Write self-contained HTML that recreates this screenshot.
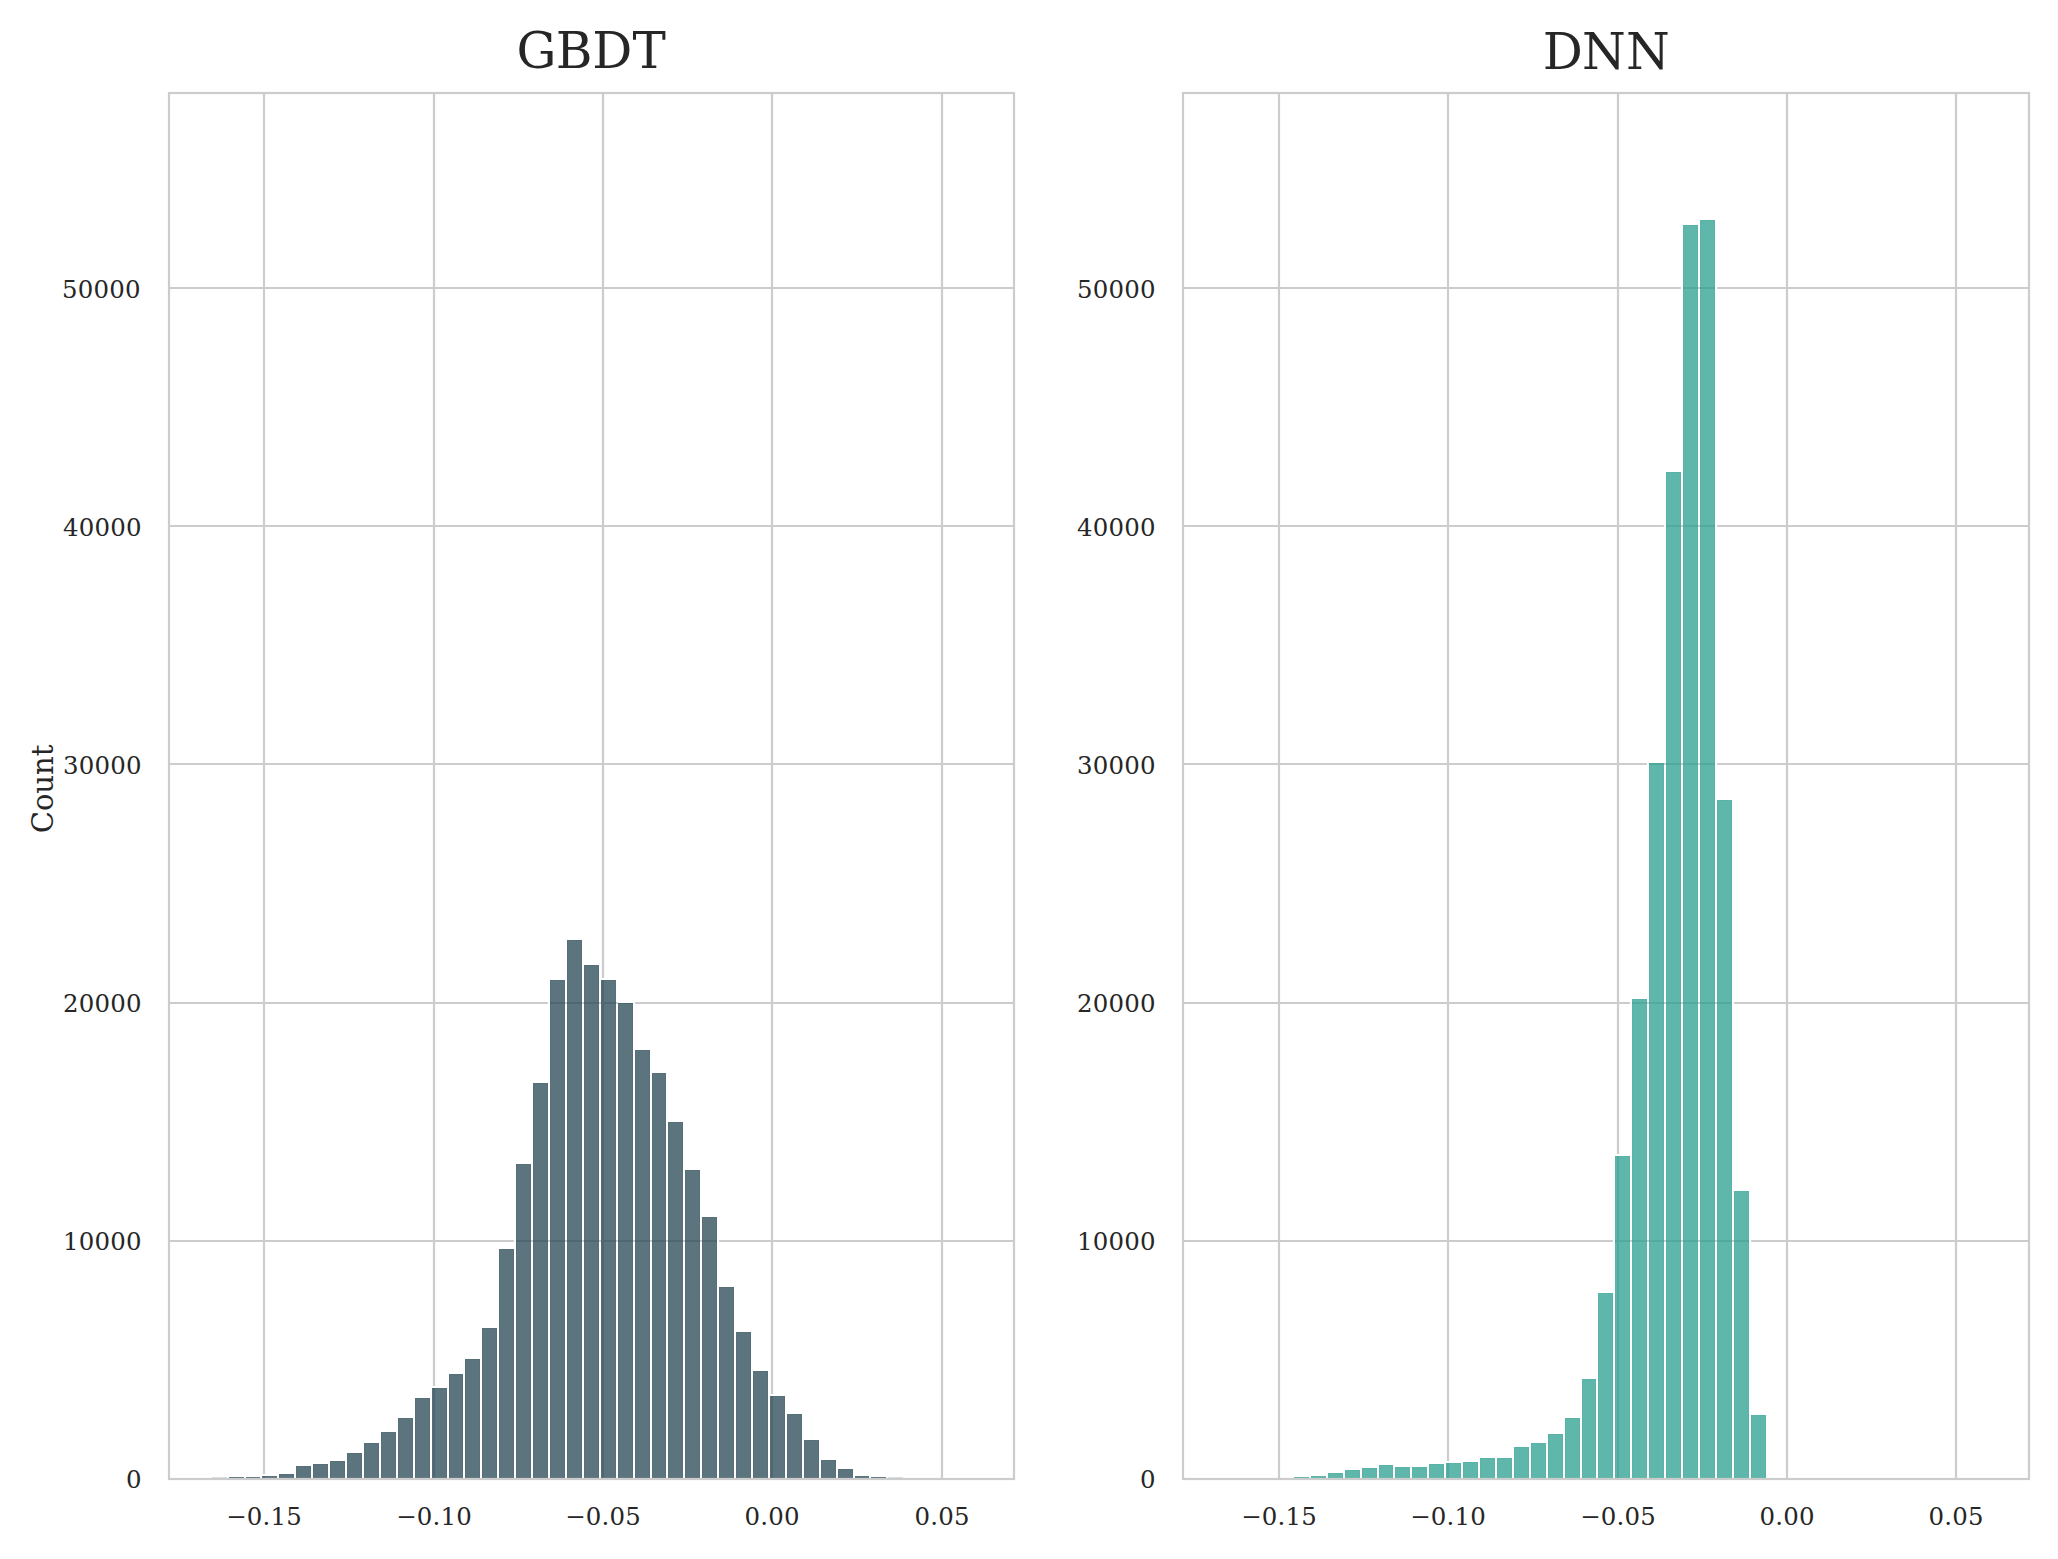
<!DOCTYPE html>
<html lang="en">
<head>
<meta charset="utf-8">
<title>GBDT vs DNN histograms</title>
<style>
html,body{margin:0;padding:0;background:#fff;}
body{width:2058px;height:1559px;overflow:hidden;}
svg{display:block;}
text{font-family:"DejaVu Serif", "Liberation Serif", serif;fill:#262626;}
.tk{font-size:24.44px;letter-spacing:0.2px;}
.ti{font-size:50px;}
.lb{font-size:29.17px;letter-spacing:-0.15px;}
.g{stroke:#cccccc;stroke-width:2.2;fill:none;}
</style>
</head>
<body>
<svg width="2058" height="1559" viewBox="0 0 2058 1559">
<rect width="2058" height="1559" fill="#ffffff"/>
<defs>
<clipPath id="c0"><rect x="169" y="93" width="845" height="1386"/></clipPath>
<clipPath id="c1"><rect x="1183" y="93" width="846" height="1386"/></clipPath>
</defs>
<g>
<line class="g" x1="264" y1="93" x2="264" y2="1479"/>
<line class="g" x1="434" y1="93" x2="434" y2="1479"/>
<line class="g" x1="603" y1="93" x2="603" y2="1479"/>
<line class="g" x1="772" y1="93" x2="772" y2="1479"/>
<line class="g" x1="942" y1="93" x2="942" y2="1479"/>
<line class="g" x1="169" y1="1241" x2="1014" y2="1241"/>
<line class="g" x1="169" y1="1003" x2="1014" y2="1003"/>
<line class="g" x1="169" y1="764" x2="1014" y2="764"/>
<line class="g" x1="169" y1="526" x2="1014" y2="526"/>
<line class="g" x1="169" y1="288" x2="1014" y2="288"/>
<g clip-path="url(#c0)">
<path fill="#ffffff" fill-rule="evenodd" d="M209.9 1474.9H229.1V1479H209.9ZM212 1477V1479H227V1477ZM226.9 1474.9H246.1V1479H226.9ZM229 1477V1479H244V1477ZM243.9 1474.9H262.1V1479H243.9ZM246 1477V1479H260V1477ZM259.9 1473.9H279.1V1479H259.9ZM262 1476V1479H277V1476ZM276.9 1471.9H296.1V1479H276.9ZM279 1474V1479H294V1474ZM293.9 1463.9H313.1V1479H293.9ZM296 1466V1479H311V1466ZM310.9 1461.9H330.1V1479H310.9ZM313 1464V1479H328V1464ZM327.9 1458.9H347.1V1479H327.9ZM330 1461V1479H345V1461ZM344.9 1450.9H364.1V1479H344.9ZM347 1453V1479H362V1453ZM361.9 1440.9H381.1V1479H361.9ZM364 1443V1479H379V1443ZM378.9 1429.9H398.1V1479H378.9ZM381 1432V1479H396V1432ZM395.9 1415.9H415.1V1479H395.9ZM398 1418V1479H413V1418ZM412.9 1395.9H432.1V1479H412.9ZM415 1398V1479H430V1398ZM429.9 1385.9H449.1V1479H429.9ZM432 1388V1479H447V1388ZM446.9 1371.9H465.1V1479H446.9ZM449 1374V1479H463V1374ZM462.9 1356.9H482.1V1479H462.9ZM465 1359V1479H480V1359ZM479.9 1325.9H499.1V1479H479.9ZM482 1328V1479H497V1328ZM496.9 1246.9H516.1V1479H496.9ZM499 1249V1479H514V1249ZM513.9 1161.9H533.1V1479H513.9ZM516 1164V1479H531V1164ZM530.9 1080.9H550.1V1479H530.9ZM533 1083V1479H548V1083ZM547.9 977.9H567.1V1479H547.9ZM550 980V1479H565V980ZM564.9 937.9H584.1V1479H564.9ZM567 940V1479H582V940ZM581.9 962.9H601.1V1479H581.9ZM584 965V1479H599V965ZM598.9 977.9H618.1V1479H598.9ZM601 980V1479H616V980ZM615.9 1000.9H635.1V1479H615.9ZM618 1003V1479H633V1003ZM632.9 1047.9H652.1V1479H632.9ZM635 1050V1479H650V1050ZM649.9 1070.9H668.1V1479H649.9ZM652 1073V1479H666V1073ZM665.9 1119.9H685.1V1479H665.9ZM668 1122V1479H683V1122ZM682.9 1167.9H702.1V1479H682.9ZM685 1170V1479H700V1170ZM699.9 1214.9H719.1V1479H699.9ZM702 1217V1479H717V1217ZM716.9 1284.9H736.1V1479H716.9ZM719 1287V1479H734V1287ZM733.9 1329.9H753.1V1479H733.9ZM736 1332V1479H751V1332ZM750.9 1368.9H770.1V1479H750.9ZM753 1371V1479H768V1371ZM767.9 1393.9H787.1V1479H767.9ZM770 1396V1479H785V1396ZM784.9 1411.9H804.1V1479H784.9ZM787 1414V1479H802V1414ZM801.9 1437.9H821.1V1479H801.9ZM804 1440V1479H819V1440ZM818.9 1457.9H838.1V1479H818.9ZM821 1460V1479H836V1460ZM835.9 1466.9H855.1V1479H835.9ZM838 1469V1479H853V1469ZM852.9 1473.9H871.1V1479H852.9ZM855 1476V1479H869V1476ZM868.9 1474.9H888.1V1479H868.9ZM871 1477V1479H886V1477ZM885.9 1474.9H905.1V1479H885.9ZM888 1477V1479H903V1477Z"/>
<g fill="#264653" fill-opacity="0.75">
<rect x="212" y="1477" width="15" height="2" fill-opacity="0.17"/>
<rect x="229" y="1477" width="15" height="2"/>
<rect x="246" y="1477" width="14" height="2"/>
<rect x="262" y="1476" width="15" height="3"/>
<rect x="279" y="1474" width="15" height="5"/>
<rect x="296" y="1466" width="15" height="13"/>
<rect x="313" y="1464" width="15" height="15"/>
<rect x="330" y="1461" width="15" height="18"/>
<rect x="347" y="1453" width="15" height="26"/>
<rect x="364" y="1443" width="15" height="36"/>
<rect x="381" y="1432" width="15" height="47"/>
<rect x="398" y="1418" width="15" height="61"/>
<rect x="415" y="1398" width="15" height="81"/>
<rect x="432" y="1388" width="15" height="91"/>
<rect x="449" y="1374" width="14" height="105"/>
<rect x="465" y="1359" width="15" height="120"/>
<rect x="482" y="1328" width="15" height="151"/>
<rect x="499" y="1249" width="15" height="230"/>
<rect x="516" y="1164" width="15" height="315"/>
<rect x="533" y="1083" width="15" height="396"/>
<rect x="550" y="980" width="15" height="499"/>
<rect x="567" y="940" width="15" height="539"/>
<rect x="584" y="965" width="15" height="514"/>
<rect x="601" y="980" width="15" height="499"/>
<rect x="618" y="1003" width="15" height="476"/>
<rect x="635" y="1050" width="15" height="429"/>
<rect x="652" y="1073" width="14" height="406"/>
<rect x="668" y="1122" width="15" height="357"/>
<rect x="685" y="1170" width="15" height="309"/>
<rect x="702" y="1217" width="15" height="262"/>
<rect x="719" y="1287" width="15" height="192"/>
<rect x="736" y="1332" width="15" height="147"/>
<rect x="753" y="1371" width="15" height="108"/>
<rect x="770" y="1396" width="15" height="83"/>
<rect x="787" y="1414" width="15" height="65"/>
<rect x="804" y="1440" width="15" height="39"/>
<rect x="821" y="1460" width="15" height="19"/>
<rect x="838" y="1469" width="15" height="10"/>
<rect x="855" y="1476" width="14" height="3"/>
<rect x="871" y="1477" width="15" height="2"/>
<rect x="888" y="1477" width="15" height="2" fill-opacity="0.17"/>
</g>
<path fill="#264653" fill-opacity="0.10" fill-rule="evenodd" d="M279 1474H294V1479H279ZM280 1475V1479H293V1475ZM296 1466H311V1479H296ZM297 1467V1479H310V1467ZM313 1464H328V1479H313ZM314 1465V1479H327V1465ZM330 1461H345V1479H330ZM331 1462V1479H344V1462ZM347 1453H362V1479H347ZM348 1454V1479H361V1454ZM364 1443H379V1479H364ZM365 1444V1479H378V1444ZM381 1432H396V1479H381ZM382 1433V1479H395V1433ZM398 1418H413V1479H398ZM399 1419V1479H412V1419ZM415 1398H430V1479H415ZM416 1399V1479H429V1399ZM432 1388H447V1479H432ZM433 1389V1479H446V1389ZM449 1374H463V1479H449ZM450 1375V1479H462V1375ZM465 1359H480V1479H465ZM466 1360V1479H479V1360ZM482 1328H497V1479H482ZM483 1329V1479H496V1329ZM499 1249H514V1479H499ZM500 1250V1479H513V1250ZM516 1164H531V1479H516ZM517 1165V1479H530V1165ZM533 1083H548V1479H533ZM534 1084V1479H547V1084ZM550 980H565V1479H550ZM551 981V1479H564V981ZM567 940H582V1479H567ZM568 941V1479H581V941ZM584 965H599V1479H584ZM585 966V1479H598V966ZM601 980H616V1479H601ZM602 981V1479H615V981ZM618 1003H633V1479H618ZM619 1004V1479H632V1004ZM635 1050H650V1479H635ZM636 1051V1479H649V1051ZM652 1073H666V1479H652ZM653 1074V1479H665V1074ZM668 1122H683V1479H668ZM669 1123V1479H682V1123ZM685 1170H700V1479H685ZM686 1171V1479H699V1171ZM702 1217H717V1479H702ZM703 1218V1479H716V1218ZM719 1287H734V1479H719ZM720 1288V1479H733V1288ZM736 1332H751V1479H736ZM737 1333V1479H750V1333ZM753 1371H768V1479H753ZM754 1372V1479H767V1372ZM770 1396H785V1479H770ZM771 1397V1479H784V1397ZM787 1414H802V1479H787ZM788 1415V1479H801V1415ZM804 1440H819V1479H804ZM805 1441V1479H818V1441ZM821 1460H836V1479H821ZM822 1461V1479H835V1461ZM838 1469H853V1479H838ZM839 1470V1479H852V1470Z"/>
</g>
<rect class="g" x="169" y="93" width="845" height="1386"/>
<text class="tk" text-anchor="end" x="141.7" y="1488">0</text>
<text class="tk" text-anchor="end" x="141.7" y="1250">10000</text>
<text class="tk" text-anchor="end" x="141.7" y="1012">20000</text>
<text class="tk" text-anchor="end" x="141.7" y="774">30000</text>
<text class="tk" text-anchor="end" x="141.7" y="536">40000</text>
<text class="tk" text-anchor="end" x="140.7" y="298">50000</text>
<text class="tk" text-anchor="middle" x="264.1" y="1525">−0.15</text>
<text class="tk" text-anchor="middle" x="434.1" y="1525">−0.10</text>
<text class="tk" text-anchor="middle" x="603.1" y="1525">−0.05</text>
<text class="tk" text-anchor="middle" x="772.1" y="1525">0.00</text>
<text class="tk" text-anchor="middle" x="942.1" y="1525">0.05</text>
</g>
<g>
<line class="g" x1="1279" y1="93" x2="1279" y2="1479"/>
<line class="g" x1="1448" y1="93" x2="1448" y2="1479"/>
<line class="g" x1="1618" y1="93" x2="1618" y2="1479"/>
<line class="g" x1="1787" y1="93" x2="1787" y2="1479"/>
<line class="g" x1="1956" y1="93" x2="1956" y2="1479"/>
<line class="g" x1="1183" y1="1241" x2="2029" y2="1241"/>
<line class="g" x1="1183" y1="1003" x2="2029" y2="1003"/>
<line class="g" x1="1183" y1="764" x2="2029" y2="764"/>
<line class="g" x1="1183" y1="526" x2="2029" y2="526"/>
<line class="g" x1="1183" y1="288" x2="2029" y2="288"/>
<g clip-path="url(#c1)">
<path fill="#ffffff" fill-rule="evenodd" d="M1291.9 1474.9H1311.1V1479H1291.9ZM1294 1477V1479H1309V1477ZM1308.9 1473.9H1328.1V1479H1308.9ZM1311 1476V1479H1326V1476ZM1325.9 1470.9H1345.1V1479H1325.9ZM1328 1473V1479H1343V1473ZM1342.9 1467.9H1362.1V1479H1342.9ZM1345 1470V1479H1360V1470ZM1359.9 1465.9H1379.1V1479H1359.9ZM1362 1468V1479H1377V1468ZM1376.9 1462.9H1395.1V1479H1376.9ZM1379 1465V1479H1393V1465ZM1392.9 1464.9H1412.1V1479H1392.9ZM1395 1467V1479H1410V1467ZM1409.9 1464.9H1429.1V1479H1409.9ZM1412 1467V1479H1427V1467ZM1426.9 1461.9H1446.1V1479H1426.9ZM1429 1464V1479H1444V1464ZM1443.9 1460.9H1463.1V1479H1443.9ZM1446 1463V1479H1461V1463ZM1460.9 1459.9H1480.1V1479H1460.9ZM1463 1462V1479H1478V1462ZM1477.9 1455.9H1497.1V1479H1477.9ZM1480 1458V1479H1495V1458ZM1494.9 1455.9H1514.1V1479H1494.9ZM1497 1458V1479H1512V1458ZM1511.9 1444.9H1531.1V1479H1511.9ZM1514 1447V1479H1529V1447ZM1528.9 1440.9H1548.1V1479H1528.9ZM1531 1443V1479H1546V1443ZM1545.9 1431.9H1565.1V1479H1545.9ZM1548 1434V1479H1563V1434ZM1562.9 1415.9H1582.1V1479H1562.9ZM1565 1418V1479H1580V1418ZM1579.9 1376.9H1598.1V1479H1579.9ZM1582 1379V1479H1596V1379ZM1595.9 1290.9H1615.1V1479H1595.9ZM1598 1293V1479H1613V1293ZM1612.9 1153.9H1632.1V1479H1612.9ZM1615 1156V1479H1630V1156ZM1629.9 996.9H1649.1V1479H1629.9ZM1632 999V1479H1647V999ZM1646.9 760.9H1666.1V1479H1646.9ZM1649 763V1479H1664V763ZM1663.9 469.9H1683.1V1479H1663.9ZM1666 472V1479H1681V472ZM1680.9 222.9H1700.1V1479H1680.9ZM1683 225V1479H1698V225ZM1697.9 217.9H1717.1V1479H1697.9ZM1700 220V1479H1715V220ZM1714.9 797.9H1734.1V1479H1714.9ZM1717 800V1479H1732V800ZM1731.9 1188.9H1751.1V1479H1731.9ZM1734 1191V1479H1749V1191ZM1748.9 1412.9H1768.1V1479H1748.9ZM1751 1415V1479H1766V1415Z"/>
<g fill="#2a9d8f" fill-opacity="0.75">
<rect x="1294" y="1477" width="15" height="2"/>
<rect x="1311" y="1476" width="15" height="3"/>
<rect x="1328" y="1473" width="15" height="6"/>
<rect x="1345" y="1470" width="15" height="9"/>
<rect x="1362" y="1468" width="15" height="11"/>
<rect x="1379" y="1465" width="14" height="14"/>
<rect x="1395" y="1467" width="15" height="12"/>
<rect x="1412" y="1467" width="15" height="12"/>
<rect x="1429" y="1464" width="15" height="15"/>
<rect x="1446" y="1463" width="15" height="16"/>
<rect x="1463" y="1462" width="15" height="17"/>
<rect x="1480" y="1458" width="15" height="21"/>
<rect x="1497" y="1458" width="15" height="21"/>
<rect x="1514" y="1447" width="15" height="32"/>
<rect x="1531" y="1443" width="15" height="36"/>
<rect x="1548" y="1434" width="15" height="45"/>
<rect x="1565" y="1418" width="15" height="61"/>
<rect x="1582" y="1379" width="14" height="100"/>
<rect x="1598" y="1293" width="15" height="186"/>
<rect x="1615" y="1156" width="15" height="323"/>
<rect x="1632" y="999" width="15" height="480"/>
<rect x="1649" y="763" width="15" height="716"/>
<rect x="1666" y="472" width="15" height="1007"/>
<rect x="1683" y="225" width="15" height="1254"/>
<rect x="1700" y="220" width="15" height="1259"/>
<rect x="1717" y="800" width="15" height="679"/>
<rect x="1734" y="1191" width="15" height="288"/>
<rect x="1751" y="1415" width="15" height="64"/>
</g>
<path fill="#2a9d8f" fill-opacity="0.10" fill-rule="evenodd" d="M1328 1473H1343V1479H1328ZM1329 1474V1479H1342V1474ZM1345 1470H1360V1479H1345ZM1346 1471V1479H1359V1471ZM1362 1468H1377V1479H1362ZM1363 1469V1479H1376V1469ZM1379 1465H1393V1479H1379ZM1380 1466V1479H1392V1466ZM1395 1467H1410V1479H1395ZM1396 1468V1479H1409V1468ZM1412 1467H1427V1479H1412ZM1413 1468V1479H1426V1468ZM1429 1464H1444V1479H1429ZM1430 1465V1479H1443V1465ZM1446 1463H1461V1479H1446ZM1447 1464V1479H1460V1464ZM1463 1462H1478V1479H1463ZM1464 1463V1479H1477V1463ZM1480 1458H1495V1479H1480ZM1481 1459V1479H1494V1459ZM1497 1458H1512V1479H1497ZM1498 1459V1479H1511V1459ZM1514 1447H1529V1479H1514ZM1515 1448V1479H1528V1448ZM1531 1443H1546V1479H1531ZM1532 1444V1479H1545V1444ZM1548 1434H1563V1479H1548ZM1549 1435V1479H1562V1435ZM1565 1418H1580V1479H1565ZM1566 1419V1479H1579V1419ZM1582 1379H1596V1479H1582ZM1583 1380V1479H1595V1380ZM1598 1293H1613V1479H1598ZM1599 1294V1479H1612V1294ZM1615 1156H1630V1479H1615ZM1616 1157V1479H1629V1157ZM1632 999H1647V1479H1632ZM1633 1000V1479H1646V1000ZM1649 763H1664V1479H1649ZM1650 764V1479H1663V764ZM1666 472H1681V1479H1666ZM1667 473V1479H1680V473ZM1683 225H1698V1479H1683ZM1684 226V1479H1697V226ZM1700 220H1715V1479H1700ZM1701 221V1479H1714V221ZM1717 800H1732V1479H1717ZM1718 801V1479H1731V801ZM1734 1191H1749V1479H1734ZM1735 1192V1479H1748V1192ZM1751 1415H1766V1479H1751ZM1752 1416V1479H1765V1416Z"/>
</g>
<rect class="g" x="1183" y="93" width="846" height="1386"/>
<text class="tk" text-anchor="end" x="1155.7" y="1488">0</text>
<text class="tk" text-anchor="end" x="1155.7" y="1250">10000</text>
<text class="tk" text-anchor="end" x="1155.7" y="1012">20000</text>
<text class="tk" text-anchor="end" x="1155.7" y="774">30000</text>
<text class="tk" text-anchor="end" x="1155.7" y="536">40000</text>
<text class="tk" text-anchor="end" x="1155.7" y="298">50000</text>
<text class="tk" text-anchor="middle" x="1279.1" y="1525">−0.15</text>
<text class="tk" text-anchor="middle" x="1448.1" y="1525">−0.10</text>
<text class="tk" text-anchor="middle" x="1618.1" y="1525">−0.05</text>
<text class="tk" text-anchor="middle" x="1787.1" y="1525">0.00</text>
<text class="tk" text-anchor="middle" x="1956.1" y="1525">0.05</text>
</g>
<text class="ti" x="516.5 555.8 592.3 632.5" y="67.8">GBDT</text>
<text class="ti" x="1542.7 1581.9 1626" y="68.5">DNN</text>
<text class="lb" text-anchor="middle" transform="translate(53,789) rotate(-90)">Count</text>
</svg>
</body>
</html>
